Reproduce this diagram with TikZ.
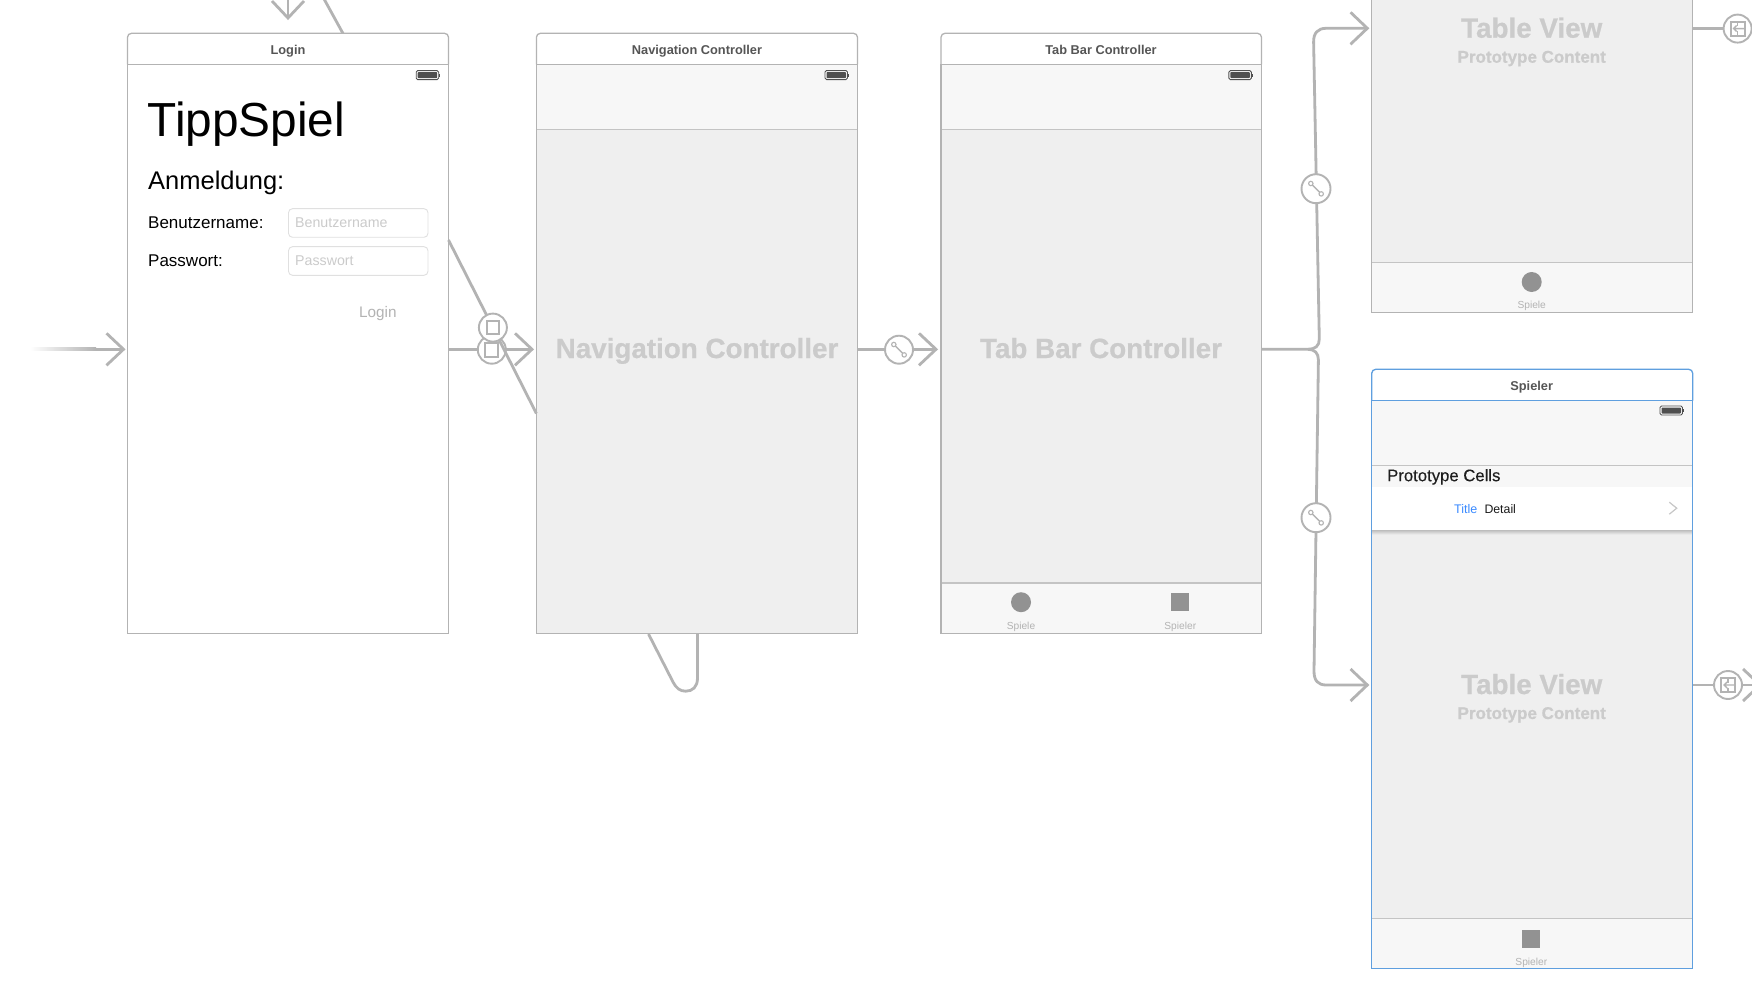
\documentclass[tikz,border=0pt]{standalone}
\usepackage{fontspec}
\setmainfont{Liberation Sans}
\newfontfamily\ghostf{Liberation Sans}[BoldFeatures={FakeBold=0.7}]
\newfontfamily\medf{Liberation Sans}[FakeBold=0.25]
\usetikzlibrary{calc}
\definecolor{edge}{HTML}{B3B3B3}
\definecolor{bar}{HTML}{F7F7F7}
\definecolor{body}{HTML}{EFEFEF}
\definecolor{sep}{HTML}{C4C4C4}
\definecolor{selblue}{HTML}{5F9FDF}
\definecolor{ghost}{HTML}{CBCBCB}
\definecolor{icon}{HTML}{929292}
\definecolor{hdr}{HTML}{555555}
\definecolor{tint}{HTML}{3B8BFF}
\definecolor{dark}{HTML}{4F4F4F}
\tikzset{
  x=1pt,y=-1pt,
  conn/.style={draw=edge,line width=2.8pt},
  chev/.style={draw=edge,line width=2.8pt,line join=miter},
  segue/.style={circle,draw=edge,fill=white,line width=1.9pt,minimum size=28pt,inner sep=0pt},
  framebox/.style={draw=#1,line width=1.3pt},
  panel/.style={line width=1.3pt,inner sep=0pt,outer sep=0pt,anchor=north west},
  hdrtxt/.style={anchor=base,inner sep=0pt,text=hdr,font=\fontsize{12.8}{14}\selectfont\bfseries},
  ghostbig/.style={anchor=base,inner sep=0pt,text=ghost,font=\ghostf\fontsize{27.8}{30}\selectfont\bfseries},
  ghostsub/.style={anchor=base,inner sep=0pt,text=ghost,font=\ghostf\fontsize{17}{20}\selectfont\bfseries},
  tablab/.style={anchor=base,inner sep=0pt,text=edge,font=\fontsize{10.2}{12}\selectfont},
  lbl/.style={anchor=base west,inner sep=0pt,text=black},
  field/.style={draw=black!12,line width=.9pt,rounded corners=4pt},
  holder/.style={anchor=base west,inner sep=0pt,text=ghost,font=\fontsize{14.2}{16}\selectfont},
}
% frame: left, right, top, headerline, bottom, colour
\newcommand{\phoneframe}[6]{%
  \fill[white,rounded corners=4pt] (#1,#3) rectangle (#2,#5);
  \draw[framebox=#6,rounded corners=4pt] (#1,#4) -- (#1,#3) -- (#2,#3) -- (#2,#4);
  \draw[framebox=#6] (#1,#4) -- (#2,#4);
}
\newcommand{\battery}[2]{% right x, top y
  \draw[draw=dark,line width=.9pt,rounded corners=1.5pt,fill=white] (#1-24,#2) rectangle (#1-1.5,#2+9);
  \fill[dark,rounded corners=.8pt] (#1-22.5,#2+1.5) rectangle (#1-3,#2+7.5);
  \fill[dark] (#1-1.2,#2+3) rectangle (#1,#2+6);
}
\newcommand{\linkicon}[1]{% node name
  \draw[edge,line width=1.4pt] ($(#1)+(-4.2,-4.2)$) -- ($(#1)+(4.2,4.2)$);
  \draw[edge,line width=1.1pt,fill=white] ($(#1)+(-5.2,-5.2)$) circle (2.2);
  \draw[edge,line width=1.1pt,fill=white] ($(#1)+(5.2,5.2)$) circle (2.2);
}
\newcommand{\embedicon}[1]{% node name
  \draw[edge,line width=2pt] ($(#1)+(-7,-7)$) rectangle ($(#1)+(7,7)$);
  \draw[edge,line width=1.4pt] ($(#1)+(0,-7)$) -- ($(#1)+(0,-2.5)$) ($(#1)+(0,2.5)$) -- ($(#1)+(0,7)$);
  \draw[edge,line width=1.4pt] ($(#1)+(7,0)$) -- ($(#1)+(-4,0)$) ($(#1)+(-1,-3)$) -- ($(#1)+(-4,0)$) -- ($(#1)+(-1,3)$);
}
\begin{document}
\begin{tikzpicture}
\useasboundingbox (0,0) rectangle (1752,1008);
\fill[white] (0,0) rectangle (1752,1008);

% ---------- top stubs
\coordinate (stubA) at (288,-2);
\coordinate (stubAtip) at (288,18);
\draw[conn] (stubA) -- (stubAtip);
\draw[chev] (272,1) -- (stubAtip) -- (304,1);
\coordinate (stubB) at (323.5,-2);
\coordinate (stubBend) at (343,33.5);
\draw[conn] (stubB) -- (stubBend);

% ---------- initial arrow
\shade[left color=white,right color=edge] (30,347.9) rectangle (96,350.7);
\coordinate (initS) at (96,349.3);
\coordinate (initT) at (123.5,349.3);
\draw[conn] (initS) -- (initT);
\draw[chev] (106.5,333.3) -- (initT) -- (106.5,365.3);

% ---------- Login
\phoneframe{127.5}{448.5}{33.3}{64.3}{633.3}{edge}
\node[panel,draw=edge,fill=white,minimum width=321pt,minimum height=569pt] (login) at (127.5,64.3) {};
\node[hdrtxt] (loginT) at (288,54.6) {Login};
\battery{440.2}{70.6}
\node[lbl,font=\fontsize{47.8}{52}\selectfont] (tipp) at (147.5,136.5) {TippSpiel};
\node[lbl,font=\fontsize{25.5}{28}\selectfont] (anm) at (148,190) {Anmeldung:};
\node[lbl,font=\fontsize{17}{20}\selectfont] (ben) at (148,228.7) {Benutzername:};
\node[lbl,font=\fontsize{17}{20}\selectfont] (pas) at (148,266.7) {Passwort:};
\draw[field] (288.5,208.7) rectangle (428,237.3);
\draw[field] (288.5,246.7) rectangle (428,275.3);
\node[holder] (benH) at (295,227.7) {Benutzername};
\node[holder] (pasH) at (295,265.7) {Passwort};
\node[lbl,text=edge,font=\fontsize{15.3}{18}\selectfont] (loginB) at (359,317.7) {Login};

% ---------- Navigation Controller
\phoneframe{536.4}{857.5}{33.3}{64.3}{633.3}{edge}
\node[hdrtxt] (navT) at (697,54.6) {Navigation Controller};
\fill[bar] (536.4,64.3) rectangle (857.5,129.3);
\fill[body] (536.4,129.3) rectangle (857.5,633.3);
\draw[sep,line width=1.5pt] (536.4,129.3) -- (857.5,129.3);
\node[panel,draw=edge,minimum width=321.1pt,minimum height=569pt] (nav) at (536.4,64.3) {};
\battery{849}{70.6}
\node[ghostbig] (navW) at (697,358) {Navigation Controller};

% ---------- Tab Bar Controller
\phoneframe{941}{1261.5}{33.3}{64.3}{633.3}{edge}
\node[hdrtxt] (tabT) at (1101,54.6) {Tab Bar Controller};
\fill[bar] (941,64.3) rectangle (1261.5,129.3);
\fill[body] (941,129.3) rectangle (1261.5,582.8);
\fill[bar] (941,582.8) rectangle (1261.5,633.3);
\draw[sep,line width=1.5pt] (941,129.3) -- (1261.5,129.3);
\draw[sep,line width=1.5pt] (941,582.8) -- (1261.5,582.8);
\node[panel,draw=edge,minimum width=320.5pt,minimum height=569pt] (tabc) at (941,64.3) {};
\battery{1252.8}{70.6}
\node[ghostbig] (tabW) at (1101,358) {Tab Bar Controller};
\fill[icon] (1021,602.2) circle (10);
\fill[icon] (1171.3,593.2) rectangle (1189.3,611.2);
\node[tablab] (tabL1) at (1021,629) {Spiele};
\node[tablab] (tabL2) at (1180.3,629) {Spieler};

% ---------- Table view 1 (runs off the top)
\fill[body] (1371.7,-5) rectangle (1692.7,262.3);
\fill[bar] (1371.7,262.3) rectangle (1692.7,312.3);
\draw[sep,line width=1.5pt] (1371.7,262.3) -- (1692.7,262.3);
\node[panel,draw=edge,minimum width=321pt,minimum height=322.3pt] (tv1) at (1371.7,-10) {};
\node[ghostbig] (tv1W) at (1531.7,37.7) {Table View};
\node[ghostsub] (tv1S) at (1531.7,62.7) {Prototype Content};
\fill[icon] (1531.7,282) circle (10);
\node[tablab] (tv1L) at (1531.7,308.3) {Spiele};

% ---------- Spieler
\phoneframe{1371.7}{1692.7}{369.3}{400.7}{968.7}{selblue}
\node[hdrtxt] (spT) at (1531.7,390) {Spieler};
\fill[bar] (1371.7,400.7) rectangle (1692.7,486.7);
\fill[white] (1371.7,486.7) rectangle (1692.7,530);
\fill[body] (1371.7,530) rectangle (1692.7,918.7);
\shade[top color=black!26,bottom color=body] (1371.7,530) rectangle (1692.7,534.5);
\fill[bar] (1371.7,918.7) rectangle (1692.7,968.7);
\draw[sep,line width=1.5pt] (1371.7,465.3) -- (1692.7,465.3);
\draw[sep,line width=1.5pt] (1371.7,918.7) -- (1692.7,918.7);
\node[panel,draw=selblue,minimum width=321pt,minimum height=568pt] (sp) at (1371.7,400.7) {};
\battery{1684}{406}
\node[lbl,text=black!88,font=\medf\fontsize{16.7}{20}\selectfont] (pc) at (1387,481.2) {Prototype Cells};
\node[lbl,text=tint,font=\fontsize{12.5}{15}\selectfont] (ct) at (1454,513) {Title};
\node[lbl,text=black!90,font=\fontsize{12.3}{15}\selectfont] (cd) at (1484.3,513) {Detail};
\draw[draw=black!22,line width=1.2pt] (1669.3,502.2) -- (1676.7,508.2) -- (1669.3,514.2);
\node[ghostbig] (tv2W) at (1531.7,694) {Table View};
\node[ghostsub] (tv2S) at (1531.7,719) {Prototype Content};
\fill[icon] (1522.3,929.5) rectangle (1540.3,947.5);
\node[tablab] (spL) at (1531.3,965) {Spieler};

% ---------- Login -> Nav
\coordinate (lnS) at (448.5,349.3);
\coordinate (lnT) at (532,349.3);
\draw[conn] (lnS) -- (lnT);
\draw[chev] (515,333.3) -- (lnT) -- (515,365.3);
\node[segue] (segL) at (491.8,349.7) {};
\draw[edge,line width=2pt] (485.2,342.9) rectangle (498.4,356.5);
\coordinate (dgS) at (448.5,240);
\coordinate (dgT) at (536.4,413.5);
\draw[conn] (dgS) -- (dgT);
\node[segue] (segU) at (492.9,327.6) {};
\draw[edge,line width=2pt] (486.7,321.2) rectangle (499.1,334.4);

% ---------- Nav loop
\coordinate (loopA) at (697.5,634);
\coordinate (loopB) at (648.5,634);
\draw[conn] (loopA) -- (697.5,678) .. controls (697.5,687) and (692.5,691.2) .. (685.7,691.2)
  .. controls (680,691.2) and (676,688) .. (673,682) -- (loopB);

% ---------- Nav -> Tab
\coordinate (ntS) at (857.5,349.3);
\coordinate (ntT) at (936,349.3);
\draw[conn] (ntS) -- (ntT);
\draw[chev] (919,333.3) -- (ntT) -- (919,365.3);
\node[segue] (segN) at (899,349.7) {};
\linkicon{segN}

% ---------- Tab -> tables
\coordinate (tbS) at (1261.5,349.3);
\coordinate (tbJ) at (1308,349.3);
\coordinate (tbU) at (1367.3,28.3);
\coordinate (tbD) at (1367.3,685);
\draw[conn] (tbS) -- (tbJ) .. controls (1315,349.3) and (1319.4,346) .. (1319.3,339)
  -- (1313.6,42) .. controls (1313.4,33) and (1318,28.3) .. (1326,28.3) -- (tbU);
\draw[conn] (tbJ) .. controls (1314.5,349.3) and (1318.5,353) .. (1318.4,360)
  -- (1314,671) .. controls (1313.9,680.5) and (1318,685) .. (1326,685) -- (tbD);
\draw[chev] (1350.5,12.3) -- (tbU) -- (1350.5,44.3);
\draw[chev] (1350.5,669) -- (tbD) -- (1350.5,701);
\node[segue,minimum size=29pt] (segT1) at (1316,188.7) {};
\linkicon{segT1}
\node[segue,minimum size=29pt] (segT2) at (1316,517.7) {};
\linkicon{segT2}

% ---------- Right-hand embeds
\coordinate (e1S) at (1692.7,28.6);
\node[segue] (segE1) at (1737.6,28.6) {};
\draw[conn] (e1S) -- (segE1);
\embedicon{segE1}
\coordinate (e2S) at (1692.7,685);
\coordinate (e2T) at (1760,685);
\draw[conn] (e2S) -- (e2T);
\draw[chev] (1743,669) -- (e2T) -- (1743,701);
\node[segue] (segE2) at (1728,685) {};
\embedicon{segE2}
\end{tikzpicture}
\end{document}
